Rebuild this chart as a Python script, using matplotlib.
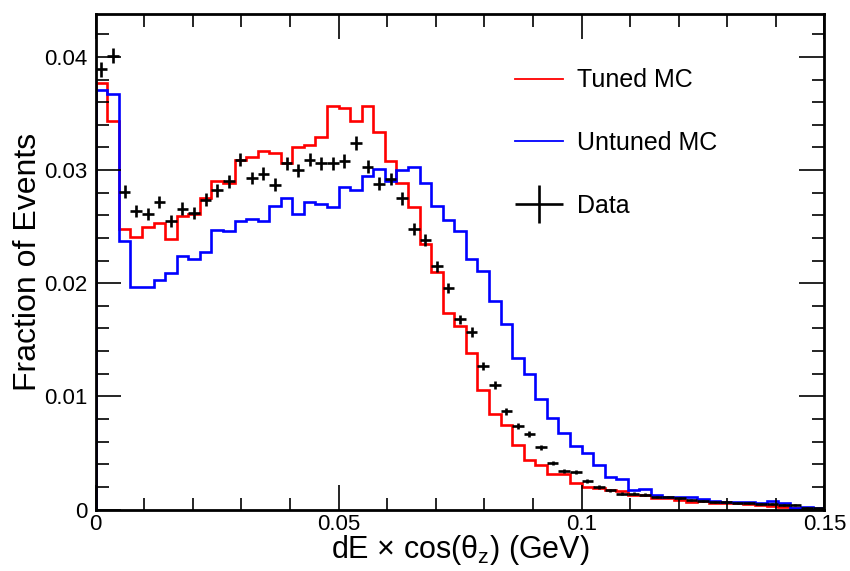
import numpy as np
import matplotlib
matplotlib.use("Agg")
import matplotlib.pyplot as plt
from matplotlib.lines import Line2D
from matplotlib.legend_handler import HandlerErrorbar
from matplotlib.ticker import MultipleLocator, FuncFormatter

plt.rcParams["font.family"] = ["Liberation Sans", "DejaVu Sans"]
plt.rcParams["mathtext.fontset"] = "custom"
plt.rcParams["mathtext.rm"] = "Liberation Sans"
plt.rcParams["mathtext.it"] = "Liberation Sans:italic"
plt.rcParams["mathtext.default"] = "regular"

# 63 bins between 0 and 0.15 GeV
x_min, x_max, n_bins = 0.0, 0.15, 63

tuned_mc = [
    0.0377, 0.0343, 0.0248, 0.0241, 0.0250, 0.0253, 0.0239, 0.0259, 0.0261, 0.0275,
    0.0290, 0.0289, 0.0309, 0.0312, 0.0317, 0.0315, 0.0306, 0.0320, 0.0322, 0.0329,
    0.0357, 0.0355, 0.0343, 0.0357, 0.0334, 0.0308, 0.0289, 0.0267, 0.0235, 0.0210,
    0.0174, 0.0162, 0.0138, 0.0106, 0.0084, 0.0075, 0.0057, 0.0044, 0.0039, 0.0031,
    0.0031, 0.0023, 0.0020, 0.0019, 0.0017, 0.0016, 0.0013, 0.0013, 0.0010, 0.0010,
    0.00084, 0.00069, 0.00075, 0.00060, 0.00055, 0.00055, 0.00046, 0.00040, 0.00034, 0.00025,
    0.00016, 0.00010, 0.00005,
]

untuned_mc = [
    0.0371, 0.0367, 0.0237, 0.0197, 0.0197, 0.0203, 0.0209, 0.0224, 0.0221, 0.0228,
    0.0247, 0.0246, 0.0255, 0.0257, 0.0255, 0.0268, 0.0275, 0.0261, 0.0272, 0.0270,
    0.0267, 0.0285, 0.0282, 0.0295, 0.0301, 0.0290, 0.0300, 0.0303, 0.0289, 0.0268,
    0.0256, 0.0246, 0.0221, 0.0211, 0.0184, 0.0164, 0.0134, 0.0120, 0.0098, 0.0081,
    0.0068, 0.0056, 0.0050, 0.0039, 0.0029, 0.0027, 0.0017, 0.0018, 0.0013, 0.0011,
    0.0011, 0.0011, 0.0009, 0.00078, 0.00069, 0.00064, 0.00069, 0.00055, 0.00075, 0.00055,
    0.00016, 0.00025, 0.00010,
]

data = [
    0.0389, 0.0401, 0.0281, 0.0264, 0.0261, 0.0272, 0.0255, 0.0266, 0.0262, 0.0274,
    0.0282, 0.0290, 0.0309, 0.0293, 0.0297, 0.0287, 0.0306, 0.0300, 0.0309, 0.0306,
    0.0306, 0.0308, 0.0324, 0.0303, 0.0288, 0.0292, 0.0275, 0.0248, 0.0238, 0.0215,
    0.0196, 0.0168, 0.0157, 0.0127, 0.0110, 0.0087, 0.0074, 0.0067, 0.0055, 0.0041,
    0.0034, 0.0033, 0.0025, 0.0020, 0.0017, 0.0014, 0.0014, 0.0013, 0.0011, 0.0011,
    0.0010, 0.00084, 0.00075, 0.00069, 0.00069, 0.00055, 0.00055, 0.00050, 0.00050, 0.00040,
    0.00040, 0.00015, 0.00012,
]

data_err = [
    0.00065, 0.00066, 0.00055, 0.00054, 0.00053, 0.00054, 0.00053, 0.00054, 0.00053, 0.00055,
    0.00055, 0.00056, 0.00058, 0.00056, 0.00057, 0.00056, 0.00058, 0.00057, 0.00058, 0.00058,
    0.00058, 0.00058, 0.00059, 0.00057, 0.00056, 0.00056, 0.00055, 0.00052, 0.00051, 0.00048,
    0.00046, 0.00043, 0.00041, 0.00037, 0.00035, 0.00031, 0.00028, 0.00027, 0.00024, 0.00021,
    0.00019, 0.00019, 0.00017, 0.00015, 0.00014, 0.00012, 0.00012, 0.00012, 0.00011, 0.00011,
    0.00010, 0.00010, 0.00009, 0.00009, 0.00009, 0.00008, 0.00008, 0.00007, 0.00007, 0.00007,
    0.00007, 0.00004, 0.00004,
]

edges = np.linspace(x_min, x_max, n_bins + 1)
centers = 0.5 * (edges[:-1] + edges[1:])
half_width = 0.5 * (edges[1] - edges[0])

fig = plt.figure(figsize=(8.5, 5.71), dpi=100)
ax = fig.add_axes([0.1126, 0.1077, 0.8573, 0.8678])

ax.stairs(tuned_mc, edges, color="#ff0000", lw=1.9)
ax.stairs(untuned_mc, edges, color="#0000ff", lw=1.9)
eb = ax.errorbar(centers, data, xerr=half_width, yerr=data_err, fmt="none",
                 ecolor="black", elinewidth=1.9, capsize=0, zorder=5)

ax.set_xlim(x_min, x_max)
ax.set_ylim(0, 0.0438)

ax.xaxis.set_major_locator(MultipleLocator(0.05))
ax.xaxis.set_minor_locator(MultipleLocator(0.01))
ax.yaxis.set_major_locator(MultipleLocator(0.01))
ax.yaxis.set_minor_locator(MultipleLocator(0.002))
fmt = FuncFormatter(lambda v, p: "%g" % round(v, 4))
ax.xaxis.set_major_formatter(fmt)
ax.yaxis.set_major_formatter(fmt)
ax.tick_params(which="both", direction="in", top=True, right=True, labelsize=16, width=1.2)
ax.tick_params(which="major", length=18)
ax.tick_params(axis="x", which="major", pad=3)
ax.tick_params(axis="y", which="major", pad=6)
ax.tick_params(which="minor", length=9)
for s in ax.spines.values():
    s.set_linewidth(2)

ax.set_xlabel(r"dE × cos(θ$_z$) (GeV)", fontsize=22, labelpad=-1)
ax.set_ylabel("Fraction of Events", fontsize=23, labelpad=1)

handles = [
    Line2D([], [], color="#ff0000", lw=1.3),
    Line2D([], [], color="#0000ff", lw=1.3),
    eb,
]
labels = ["Tuned MC", "Untuned MC", "Data"]
ax.legend(handles, labels, loc="upper left", bbox_to_anchor=(0.5754, 0.89),
          frameon=False, fontsize=18, handlelength=1.92, handletextpad=0.54,
          labelspacing=1.55, borderpad=0, borderaxespad=0,
          handler_map={type(eb): HandlerErrorbar(xerr_size=0.96, yerr_size=0.75)})

fig.savefig("out.png", dpi=100)
